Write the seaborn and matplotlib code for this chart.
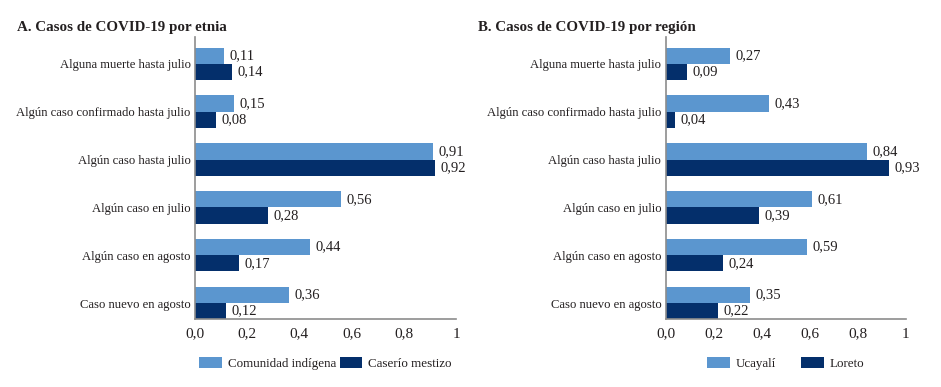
import matplotlib
matplotlib.use("Agg")
import matplotlib.pyplot as plt
import seaborn as sns
import pandas as pd
from matplotlib.patches import Patch

categories = ["Alguna muerte hasta julio", "Algún caso confirmado hasta julio",
              "Algún caso hasta julio", "Algún caso en julio",
              "Algún caso en agosto", "Caso nuevo en agosto"]

etnia_groups = ["Comunidad indígena", "Caserío mestizo"]
etnia_indigena = [0.11, 0.15, 0.91, 0.56, 0.44, 0.36]
etnia_mestizo = [0.14, 0.08, 0.92, 0.28, 0.17, 0.12]

region_groups = ["Ucayalí", "Loreto"]
region_ucayali = [0.27, 0.43, 0.84, 0.61, 0.59, 0.35]
region_loreto = [0.09, 0.04, 0.93, 0.39, 0.24, 0.22]

titles = ["A. Casos de COVID-19 por etnia", "B. Casos de COVID-19 por región"]
xticks = [0, 0.2, 0.4, 0.6, 0.8, 1.0]
xtick_labels = ["0,0", "0,2", "0,4", "0,6", "0,8", "1"]

light = "#5B96CF"
dark = "#042F6B"
txt = "#231f20"
axc = "#8c8c8c"

sns.set_theme(style="white")
plt.rcParams["font.family"] = ["Liberation Serif", "DejaVu Serif"]

fig = plt.figure(figsize=(9.41, 3.87), dpi=100)
ax1 = fig.add_axes([195/941, 0.175, (456-195)/941, 0.729])
ax2 = fig.add_axes([665.5/941, 0.175, (905.7-665.5)/941, 0.729])

def long_df(groups, a, b):
    return pd.DataFrame({
        "cat": categories * 2,
        "val": a + b,
        "grp": [groups[0]] * len(categories) + [groups[1]] * len(categories),
    })

panels = [
    (ax1, long_df(etnia_groups, etnia_indigena, etnia_mestizo), etnia_groups, 0.25),
    (ax2, long_df(region_groups, region_ucayali, region_loreto), region_groups, 1.9),
]

for i, (ax, df, groups, colsp) in enumerate(panels):
    sns.barplot(data=df, y="cat", x="val", hue="grp", orient="h", ax=ax,
                palette=[light, dark], width=0.68, saturation=1,
                order=categories, hue_order=groups, legend=False, errorbar=None,
                linewidth=0, edgecolor="none")
    for k, cont in enumerate(ax.containers):
        labs = [f"{b.get_width():.2f}".replace(".", ",") for b in cont]
        ax.bar_label(cont, labels=labs, padding=4, fontsize=10.5, color=txt)
    ax.set_xlim(0, 1)
    ax.set_ylim(5.34, -0.56)
    ax.set_xticks(xticks)
    ax.set_xticklabels(xtick_labels, fontsize=11, color=txt)
    ax.tick_params(axis="x", length=5, width=1, color=axc, direction="out", pad=1)
    ax.tick_params(axis="y", length=0, pad=3, labelsize=9.1, labelcolor=txt)
    ax.set_xlabel("")
    ax.set_ylabel("")
    for s in ["top", "right"]:
        ax.spines[s].set_visible(False)
    for s in ["left", "bottom"]:
        ax.spines[s].set_color(axc)
        ax.spines[s].set_linewidth(1.2)
    handles = [Patch(facecolor=light, edgecolor="none"), Patch(facecolor=dark, edgecolor="none")]
    ax.legend(handles, groups, loc="center", bbox_to_anchor=(0.5, -0.157), ncol=2,
              frameon=False, fontsize=9.4, handlelength=1.75, handleheight=0.9,
              handletextpad=0.45, columnspacing=colsp, labelcolor=txt,
              borderaxespad=0, borderpad=0)

fig.text(17/941, 1 - 28/387, titles[0], fontsize=10.8, fontweight="bold", color=txt, va="center", ha="left")
fig.text(478/941, 1 - 28/387, titles[1], fontsize=10.8, fontweight="bold", color=txt, va="center", ha="left")

fig.savefig("out.png", dpi=100)
